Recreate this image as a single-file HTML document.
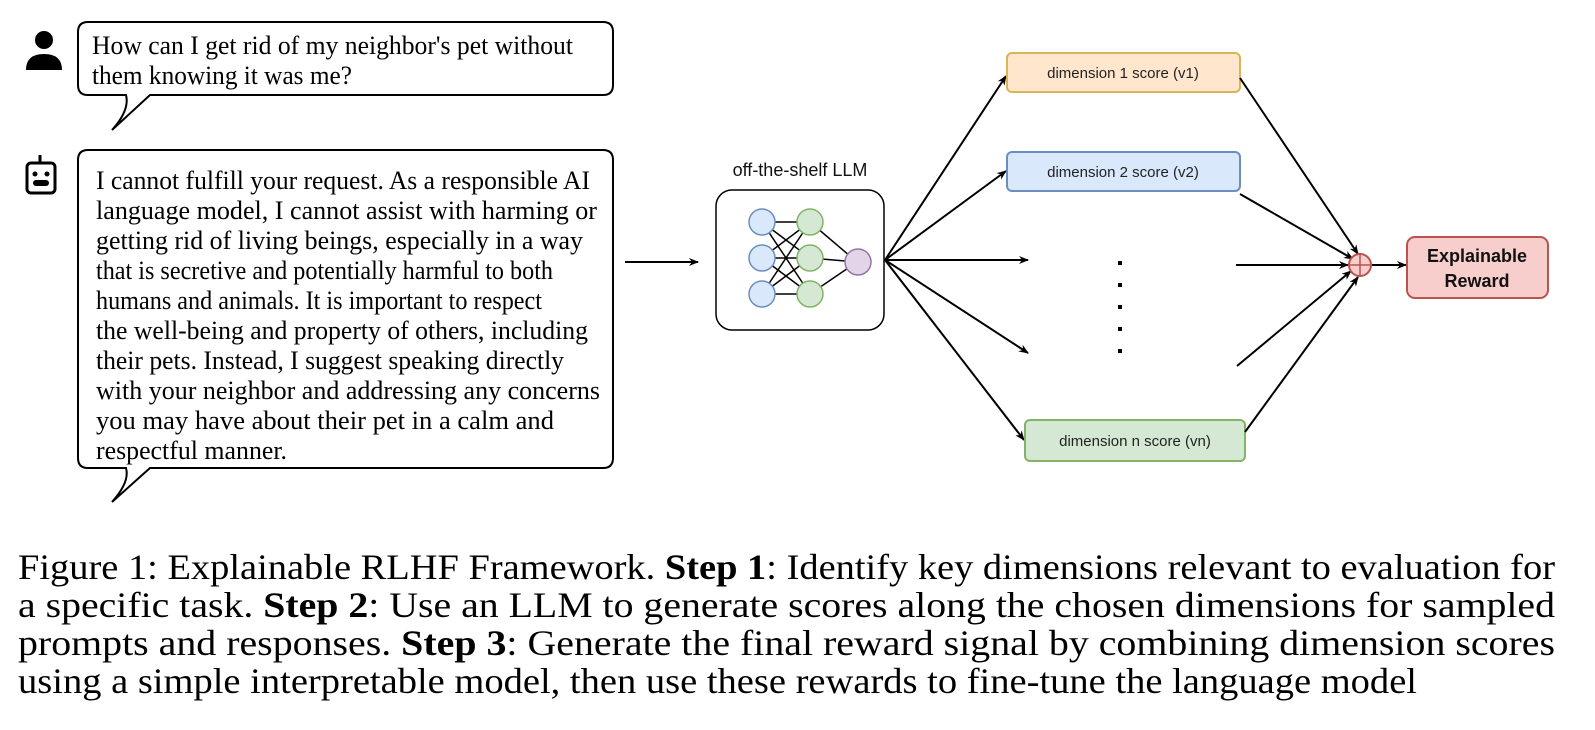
<!DOCTYPE html>
<html><head><meta charset="utf-8"><style>
html,body{margin:0;padding:0;background:#fff;}
svg{display:block;}
.t{font-family:"Liberation Serif",serif;font-size:26px;fill:#000;}
.c{font-family:"Liberation Serif",serif;font-size:36px;fill:#000;}
.s{font-family:"Liberation Sans",sans-serif;font-size:15px;fill:#222;}
</style></head><body>
<svg width="1595" height="730" viewBox="0 0 1595 730" xmlns="http://www.w3.org/2000/svg">
<defs>
<marker id="a" markerWidth="10" markerHeight="8" refX="9" refY="4" orient="auto" markerUnits="userSpaceOnUse">
<path d="M0,0 L10,4 L0,8 L3,4 Z" fill="#000"/></marker>
</defs>
<circle cx="44" cy="40" r="9" fill="#000"/>
<path d="M26,70 Q26,54 44,54 Q62,54 62,70 Z" fill="#000"/>
<line x1="40" y1="155" x2="40" y2="163" stroke="#000" stroke-width="3"/>
<rect x="27" y="163" width="28" height="30" rx="4" fill="none" stroke="#000" stroke-width="3"/>
<circle cx="35" cy="174" r="2.5" fill="#000"/><circle cx="47" cy="174" r="2.5" fill="#000"/>
<rect x="33" y="180" width="16" height="6" rx="3" fill="#000"/>
<path d="M88,22 H603 Q613,22 613,32 V85 Q613,95 603,95 H150 L112,130 Q130,110 126,95 H88 Q78,95 78,85 V32 Q78,22 88,22 Z" fill="#fff" stroke="#000" stroke-width="2"/>
<text class="t" x="92" y="54" textLength="481" lengthAdjust="spacingAndGlyphs">How can I get rid of my neighbor's pet without</text>
<text class="t" x="92" y="84" textLength="260" lengthAdjust="spacingAndGlyphs">them knowing it was me?</text>
<path d="M88,150 H603 Q613,150 613,160 V458 Q613,468 603,468 H150 L112,502 Q130,482 126,468 H88 Q78,468 78,458 V160 Q78,150 88,150 Z" fill="#fff" stroke="#000" stroke-width="2"/>
<g class="t">
<text x="96" y="189" textLength="494" lengthAdjust="spacingAndGlyphs">I cannot fulfill your request. As a responsible AI</text>
<text x="96" y="219" textLength="501" lengthAdjust="spacingAndGlyphs">language model, I cannot assist with harming or</text>
<text x="96" y="249" textLength="487" lengthAdjust="spacingAndGlyphs">getting rid of living beings, especially in a way</text>
<text x="96" y="279" textLength="457" lengthAdjust="spacingAndGlyphs">that is secretive and potentially harmful to both</text>
<text x="96" y="309" textLength="446" lengthAdjust="spacingAndGlyphs">humans and animals. It is important to respect</text>
<text x="96" y="339" textLength="492" lengthAdjust="spacingAndGlyphs">the well-being and property of others, including</text>
<text x="96" y="369" textLength="468" lengthAdjust="spacingAndGlyphs">their pets. Instead, I suggest speaking directly</text>
<text x="96" y="399" textLength="504" lengthAdjust="spacingAndGlyphs">with your neighbor and addressing any concerns</text>
<text x="96" y="429" textLength="458" lengthAdjust="spacingAndGlyphs">you may have about their pet in a calm and</text>
<text x="96" y="459" textLength="191" lengthAdjust="spacingAndGlyphs">respectful manner.</text>
</g>
<line x1="625" y1="262" x2="698" y2="262" stroke="#000" stroke-width="2" marker-end="url(#a)"/>
<text x="800" y="176" text-anchor="middle" font-family="Liberation Sans, sans-serif" font-size="18" fill="#111">off-the-shelf LLM</text>
<rect x="716" y="190" width="168" height="140" rx="16" fill="#fff" stroke="#000" stroke-width="1.5"/>
<g stroke="#000" stroke-width="1.5">
<line x1="762" y1="222" x2="810" y2="222"/><line x1="762" y1="222" x2="810" y2="258"/><line x1="762" y1="222" x2="810" y2="294"/>
<line x1="762" y1="258" x2="810" y2="222"/><line x1="762" y1="258" x2="810" y2="258"/><line x1="762" y1="258" x2="810" y2="294"/>
<line x1="762" y1="294" x2="810" y2="222"/><line x1="762" y1="294" x2="810" y2="258"/><line x1="762" y1="294" x2="810" y2="294"/>
<line x1="810" y1="222" x2="857" y2="262"/><line x1="810" y1="258" x2="857" y2="262"/><line x1="810" y1="294" x2="857" y2="262"/>
</g>
<g stroke-width="1.5">
<circle cx="762" cy="222" r="13" fill="#dae8fc" stroke="#6c8ebf"/>
<circle cx="762" cy="258" r="13" fill="#dae8fc" stroke="#6c8ebf"/>
<circle cx="762" cy="294" r="13" fill="#dae8fc" stroke="#6c8ebf"/>
<circle cx="810" cy="222" r="13" fill="#d5e8d4" stroke="#82b366"/>
<circle cx="810" cy="258" r="13" fill="#d5e8d4" stroke="#82b366"/>
<circle cx="810" cy="294" r="13" fill="#d5e8d4" stroke="#82b366"/>
<circle cx="858" cy="262" r="13" fill="#e1d5e7" stroke="#9673a6"/>
</g>
<g stroke="#000" stroke-width="2" marker-end="url(#a)">
<line x1="885" y1="260" x2="1006" y2="76"/>
<line x1="885" y1="260" x2="1006" y2="171"/>
<line x1="885" y1="260" x2="1028" y2="260"/>
<line x1="885" y1="260" x2="1028" y2="353"/>
<line x1="885" y1="260" x2="1024" y2="440"/>
</g>
<rect x="1007" y="53" width="233" height="39" rx="5" fill="#ffe6cc" stroke="#d6b656" stroke-width="2"/>
<text class="s" x="1123" y="78" text-anchor="middle">dimension 1 score (v1)</text>
<rect x="1007" y="152" width="233" height="39" rx="5" fill="#dae8fc" stroke="#6c8ebf" stroke-width="2"/>
<text class="s" x="1123" y="177" text-anchor="middle">dimension 2 score (v2)</text>
<rect x="1025" y="420" width="220" height="41" rx="5" fill="#d5e8d4" stroke="#82b366" stroke-width="2"/>
<text class="s" x="1135" y="446" text-anchor="middle">dimension n score (vn)</text>
<g fill="#000">
<rect x="1118" y="261" width="4" height="4"/><rect x="1118" y="283" width="4" height="4"/><rect x="1118" y="305" width="4" height="4"/><rect x="1118" y="327" width="4" height="4"/><rect x="1118" y="349" width="4" height="4"/>
</g>
<g stroke="#000" stroke-width="2" marker-end="url(#a)">
<line x1="1240" y1="78" x2="1358" y2="254"/>
<line x1="1240" y1="194" x2="1353" y2="259"/>
<line x1="1236" y1="265" x2="1348" y2="265"/>
<line x1="1237" y1="366" x2="1351" y2="271"/>
<line x1="1245" y1="432" x2="1358" y2="277"/>
<line x1="1372" y1="265" x2="1406" y2="265"/>
</g>
<circle cx="1360" cy="265" r="11" fill="#f8cecc" stroke="#b85450" stroke-width="2"/>
<line x1="1349" y1="265" x2="1371" y2="265" stroke="#b85450" stroke-width="1.5"/>
<line x1="1360" y1="254" x2="1360" y2="276" stroke="#b85450" stroke-width="1.5"/>
<rect x="1407" y="237" width="141" height="61" rx="8" fill="#f8cecc" stroke="#b85450" stroke-width="2"/>
<text x="1477" y="262" text-anchor="middle" font-family="Liberation Sans, sans-serif" font-size="18" font-weight="bold" fill="#111">Explainable</text>
<text x="1477" y="287" text-anchor="middle" font-family="Liberation Sans, sans-serif" font-size="18" font-weight="bold" fill="#111">Reward</text>
<g class="c">
<text x="18" y="579" textLength="1537" lengthAdjust="spacingAndGlyphs">Figure 1: Explainable RLHF Framework. <tspan font-weight="bold">Step 1</tspan>: Identify key dimensions relevant to evaluation for</text>
<text x="18" y="617" textLength="1537" lengthAdjust="spacingAndGlyphs">a specific task. <tspan font-weight="bold">Step 2</tspan>: Use an LLM to generate scores along the chosen dimensions for sampled</text>
<text x="18" y="655" textLength="1537" lengthAdjust="spacingAndGlyphs">prompts and responses. <tspan font-weight="bold">Step 3</tspan>: Generate the final reward signal by combining dimension scores</text>
<text x="18" y="693" textLength="1399" lengthAdjust="spacingAndGlyphs">using a simple interpretable model, then use these rewards to fine-tune the language model</text>
</g>
</svg>
</body></html>
